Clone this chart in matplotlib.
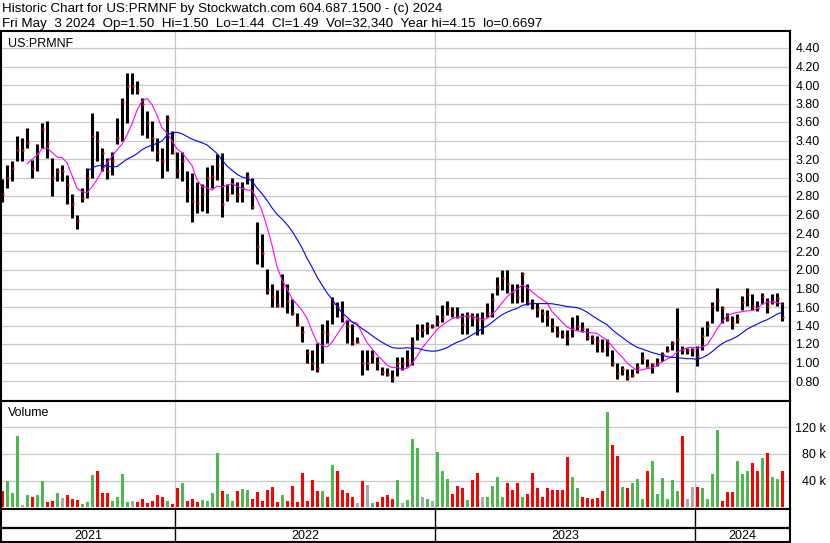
import numpy as np
import pandas as pd
import matplotlib
matplotlib.use("Agg")
import matplotlib.pyplot as plt

W, H = 830, 543
plt.rcParams["font.family"] = ["Liberation Sans", "DejaVu Sans"]

# weekly bars, one per week starting Monday 2021-05-03
weeks = pd.date_range("2021-05-03", periods=157, freq="W-MON")

highs = [2.98, 3.14, 3.18, 3.45, 3.43, 3.54, 3.19, 3.36, 3.59, 3.61,
         3.21, 3.10, 3.14, 3.03, 2.82, 2.60, 2.89, 3.10, 3.70, 3.50,
         3.32, 3.21, 3.28, 3.64, 3.86, 4.13, 4.13, 4.04, 3.86, 3.72,
         3.61, 3.43, 3.32, 3.68, 3.50, 3.28, 3.28, 3.07, 3.05, 2.95,
         2.93, 3.11, 3.13, 3.25, 3.27, 2.93, 3.00, 2.95, 2.95, 3.06,
         3.00, 2.52, 2.39, 2.01, 1.85, 1.78, 1.96, 1.85, 1.69, 1.53,
         1.39, 1.15, 1.13, 1.21, 1.42, 1.46, 1.71, 1.65, 1.67, 1.46,
         1.42, 1.28, 1.13, 1.13, 1.13, 1.06, 0.95, 0.94, 0.92, 1.06,
         1.06, 1.14, 1.28, 1.42, 1.42, 1.44, 1.42, 1.51, 1.62, 1.66,
         1.60, 1.60, 1.53, 1.55, 1.53, 1.53, 1.55, 1.64, 1.75, 1.92,
         2.00, 2.00, 1.85, 1.85, 1.98, 1.85, 1.69, 1.64, 1.58, 1.57,
         1.48, 1.40, 1.35, 1.35, 1.49, 1.51, 1.44, 1.37, 1.30, 1.29,
         1.25, 1.25, 1.14, 1.00, 0.96, 0.93, 0.93, 1.00, 1.11, 1.04,
         1.00, 1.05, 1.11, 1.18, 1.23, 1.59, 1.18, 1.16, 1.16, 1.18,
         1.38, 1.45, 1.65, 1.81, 1.61, 1.54, 1.50, 1.52, 1.72, 1.81,
         1.74, 1.66, 1.75, 1.70, 1.74, 1.75, 1.65]

lows = [2.73, 2.89, 2.96, 3.18, 3.18, 3.32, 2.99, 3.07, 3.32, 3.21,
        2.80, 2.96, 2.96, 2.71, 2.56, 2.44, 2.74, 2.78, 3.00, 3.18,
        3.07, 2.98, 3.03, 3.36, 3.39, 3.59, 3.90, 3.90, 3.46, 3.43,
        3.29, 3.18, 3.00, 3.07, 3.25, 3.00, 2.96, 2.74, 2.52, 2.62,
        2.64, 2.62, 2.89, 2.97, 2.57, 2.75, 2.82, 2.73, 2.73, 2.93,
        2.66, 2.07, 2.03, 1.74, 1.60, 1.60, 1.60, 1.53, 1.51, 1.40,
        1.22, 0.99, 0.92, 0.90, 0.99, 1.21, 1.42, 1.49, 1.44, 1.21,
        1.19, 1.21, 0.86, 0.92, 0.99, 0.92, 0.86, 0.85, 0.79, 0.85,
        0.92, 0.95, 0.97, 1.24, 1.28, 1.31, 1.37, 1.39, 1.44, 1.51,
        1.49, 1.48, 1.31, 1.31, 1.39, 1.30, 1.31, 1.49, 1.49, 1.73,
        1.78, 1.75, 1.64, 1.64, 1.65, 1.62, 1.58, 1.49, 1.44, 1.40,
        1.33, 1.28, 1.26, 1.19, 1.28, 1.35, 1.33, 1.24, 1.20, 1.11,
        1.11, 1.07, 0.96, 0.82, 0.86, 0.81, 0.84, 0.89, 0.98, 0.95,
        0.89, 0.96, 1.02, 1.11, 1.13, 0.68, 1.09, 1.09, 1.07, 0.96,
        1.14, 1.29, 1.43, 1.56, 1.43, 1.45, 1.36, 1.43, 1.57, 1.61,
        1.57, 1.56, 1.63, 1.54, 1.63, 1.61, 1.45]

closes = [2.82, 3.00, 3.10, 3.30, 3.30, 3.37, 3.10, 3.27, 3.52, 3.37,
          3.00, 3.07, 3.07, 2.92, 2.71, 2.53, 2.78, 3.00, 3.45, 3.39,
          3.27, 3.07, 3.18, 3.43, 3.82, 3.99, 3.99, 3.95, 3.79, 3.59,
          3.43, 3.28, 3.18, 3.63, 3.27, 3.07, 3.18, 2.87, 2.75, 2.72,
          2.82, 3.00, 3.02, 3.13, 2.71, 2.82, 2.93, 2.82, 2.89, 3.02,
          2.68, 2.25, 2.18, 1.78, 1.71, 1.62, 1.82, 1.67, 1.53, 1.42,
          1.33, 1.10, 0.99, 0.94, 1.33, 1.31, 1.64, 1.60, 1.49, 1.39,
          1.22, 1.22, 0.99, 0.99, 1.08, 0.99, 0.90, 0.88, 0.83, 0.99,
          0.99, 1.03, 1.22, 1.35, 1.35, 1.39, 1.39, 1.44, 1.49, 1.58,
          1.55, 1.49, 1.42, 1.49, 1.48, 1.46, 1.46, 1.53, 1.69, 1.82,
          1.91, 1.85, 1.76, 1.71, 1.96, 1.67, 1.64, 1.58, 1.53, 1.49,
          1.40, 1.33, 1.30, 1.26, 1.37, 1.39, 1.37, 1.28, 1.25, 1.23,
          1.14, 1.18, 1.00, 0.89, 0.93, 0.84, 0.87, 0.95, 1.05, 0.96,
          0.98, 1.00, 1.09, 1.14, 1.21, 1.25, 1.13, 1.13, 1.13, 1.07,
          1.29, 1.39, 1.61, 1.68, 1.59, 1.47, 1.43, 1.47, 1.65, 1.74,
          1.61, 1.59, 1.72, 1.61, 1.66, 1.70, 1.49]

# peak daily volume in each week, thousands of shares
vol_k = [25, 39, 21, 106, 4, 19, 15, 19, 40, 8,
         9, 22, 14, 19, 12, 11, 5, 8, 49, 54,
         22, 22, 9, 15, 50, 8, 10, 8, 13, 6,
         9, 18, 15, 9, 5, 29, 36, 10, 12, 8,
         11, 10, 22, 81, 25, 20, 9, 24, 28, 26,
         12, 23, 10, 26, 31, 8, 19, 10, 32, 8,
         52, 10, 41, 25, 24, 15, 64, 55, 26, 22,
         15, 6, 39, 34, 7, 8, 16, 19, 12, 41,
         7, 11, 102, 89, 16, 12, 9, 83, 54, 43,
         20, 32, 29, 11, 41, 52, 16, 16, 32, 46,
         15, 36, 26, 36, 15, 20, 52, 29, 16, 29,
         26, 26, 26, 75, 45, 29, 15, 14, 12, 14,
         25, 143, 94, 77, 30, 29, 37, 42, 12, 55,
         69, 20, 44, 12, 41, 24, 106, 12, 30, 30,
         29, 12, 50, 115, 10, 23, 23, 70, 50, 54,
         66, 55, 74, 82, 46, 42, 55]

years = [2021, 2022, 2023, 2024]
price_ticks = np.round(np.arange(0.8, 4.41, 0.2), 2)
vol_ticks = [40, 80, 120]

header1 = "Historic Chart for US:PRMNF by Stockwatch.com 604.687.1500 - (c) 2024"
header2 = "Fri May  3 2024  Op=1.50  Hi=1.50  Lo=1.44  Cl=1.49  Vol=32,340  Year hi=4.15  lo=0.6697"

start = np.datetime64("2021-05-03")
xpos = np.busday_count(start, weeks.values.astype("datetime64[D]")) + 2
year_x = [np.busday_count(start, np.datetime64(f"{y}-01-01")) for y in years[1:]]

close_s = pd.Series(closes)
ma_fast = close_s.rolling(6).mean()
ma_slow = close_s.rolling(18).mean()

chg = np.diff(closes, prepend=closes[0] + 0.01)
vcol = np.where(chg > 0, "#4db84d", np.where(chg < 0, "#ff0000", "#a8a8a8"))

GRID = "#c8c8c8"
XL = (1, 790)


def box(x0, y0, x1, y1):
    # pixel box -> figure fraction
    return [x0 / W, 1 - y1 / H, (x1 - x0) / W, (y1 - y0) / H]


fig = plt.figure(figsize=(W / 100, H / 100), dpi=100)
fig.patch.set_facecolor("white")

fig.text(2 / W, 1 - 9 / H, header1, fontsize=9.65, va="center", ha="left")
fig.text(2 / W, 1 - 24.5 / H, header2, fontsize=9.65, va="center", ha="left")

# price panel
ax = fig.add_axes(box(1, 31, 790, 401))
ax.set_xlim(*XL)
ax.set_ylim(0.80 - 20 / 92.5, 0.80 + 350 / 92.5)
ax.vlines(xpos, lows, highs, color="black", lw=2.2)
ax.plot(xpos + 1.3, closes, "s", ms=2.0, color="#ff0000", mec="none")
ax.plot(xpos, ma_fast, color="#ff00ff", lw=0.8)
ax.plot(xpos, ma_slow, color="#0000ff", lw=0.8)
ax.set_yticks(price_ticks)
ax.set_yticklabels([f"{t:.2f}" for t in price_ticks])
ax.yaxis.tick_right()
ax.tick_params(axis="y", length=0, pad=4, labelsize=9)
ax.set_xticks(year_x)
ax.tick_params(axis="x", length=0, labelbottom=False)
ax.grid(True, color=GRID, lw=0.9)
ax.set_axisbelow(True)
ax.text(8, 0.80 + (381 - 44) / 92.5, "US:PRMNF", fontsize=9, va="center")

# volume panel
axv = fig.add_axes(box(1, 401, 790, 509))
axv.set_xlim(*XL)
axv.set_ylim(-2.3, 159)
axv.bar(xpos, vol_k, width=3.0, color=vcol)
axv.set_yticks(vol_ticks)
axv.set_yticklabels([f"{t} k" for t in vol_ticks])
axv.yaxis.tick_right()
axv.tick_params(axis="y", length=0, pad=26, labelsize=9)
for lab in axv.get_yticklabels():
    lab.set_horizontalalignment("right")
axv.set_xticks(year_x)
axv.tick_params(axis="x", length=0, labelbottom=False)
axv.grid(True, color=GRID, lw=0.9)
axv.set_axisbelow(True)
axv.text(8, 159 - 12 / 0.6625, "Volume", fontsize=9, va="center")

# date strip with year labels
axd = fig.add_axes(box(1, 509, 790, 542))
axd.set_xlim(*XL)
axd.set_ylim(33, 0)
axd.axhline(19, color="black", lw=1.6)
for x in year_x:
    axd.axvline(x, color="black", lw=1.0)
edges = [XL[0]] + year_x + [XL[1]]
for i, y in enumerate(years):
    axd.text((edges[i] + edges[i + 1]) / 2, 27, str(y), fontsize=9,
             ha="center", va="center")
axd.set_xticks([])
axd.set_yticks([])

for a in (ax, axv, axd):
    for s in a.spines.values():
        s.set_color("black")
        s.set_linewidth(1.5)

fig.savefig("out.png", dpi=100)
